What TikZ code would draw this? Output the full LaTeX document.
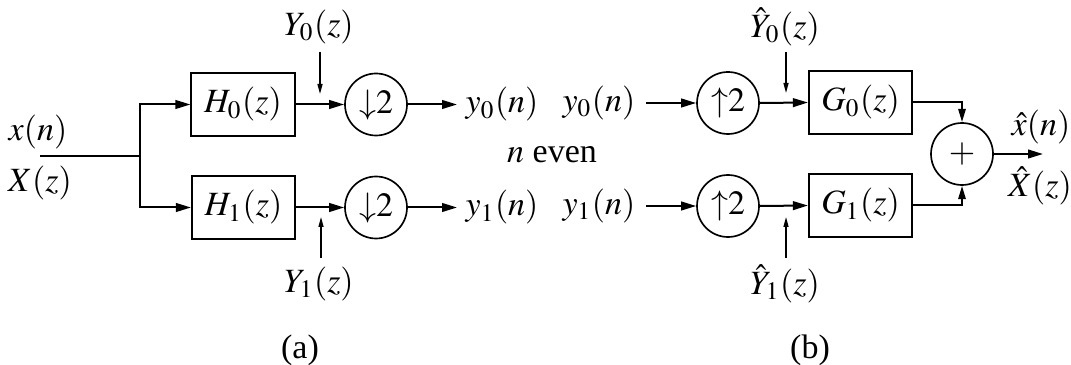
\documentclass[tikz,border=0pt]{standalone}
\usepackage{mathptmx}
\usepackage[no-math]{fontspec}
\setmainfont{Liberation Serif}
\usetikzlibrary{arrows.meta}
\begin{document}
\begin{tikzpicture}[x=0.3pt,y=-0.3pt,
  font=\fontsize{10.2}{12}\selectfont,
  every node/.style={inner sep=0pt},
  blk/.style={draw,line width=0.55pt,minimum width=31pt,minimum height=19pt,inner sep=0pt},
  rate/.style={draw,circle,line width=0.5pt,minimum size=18.6pt,inner sep=0pt},
  lab/.style={inner sep=0pt},
  sig/.style={line width=0.6pt},
  arr/.style={line width=0.6pt,-{Triangle[length=4.5pt,width=2.6pt]}},
  thinarr/.style={line width=0.4pt,-{Triangle[length=3pt,width=1.5pt]}},
  sumarr/.style={line width=0.6pt,-{Triangle[length=4pt,width=2.2pt]}}]
\useasboundingbox (0,0) rectangle (1071,365);
% ---------- (a) analysis ----------
\coordinate (in) at (40,156);
\coordinate (br) at (140,156);
\node[lab] (xn) at (38,132) {$x(n)$};
\node[lab] (Xz) at (40,183) {$X(z)$};
\node[blk] (H0) at (243,104.5) {$H_0(z)$};
\node[blk] (H1) at (243.5,207.5) {$H_1(z)$};
\node[rate] (D0) at (376,104.5) {${\downarrow}2$};
\node[rate] (D1) at (376,207.5) {${\downarrow}2$};
\node[lab,anchor=west] (y0a) at (465,104.5) {$y_0(n)$};
\node[lab,anchor=west] (y1a) at (465,207.5) {$y_1(n)$};
\node[lab] (Y0) at (319,27) {$Y_0(z)$};
\node[lab] (Y1) at (319,284) {$Y_1(z)$};
\coordinate (Y0s) at (320,52);
\coordinate (Y0e) at (320,94);
\coordinate (Y1s) at (321,258);
\coordinate (Y1e) at (321,217);
\coordinate (y0ae) at (457,104.5);
\coordinate (y1ae) at (457,207.5);
\draw[sig] (in) -- (br);
\draw[arr] (br) |- (H0.west);
\draw[arr] (br) |- (H1.west);
\draw[arr] (H0.east) -- (D0.west);
\draw[arr] (H1.east) -- (D1.west);
\draw[arr] (D0.east) -- (y0ae);
\draw[arr] (D1.east) -- (y1ae);
\draw[thinarr] (Y0s) -- (Y0e);
\draw[thinarr] (Y1s) -- (Y1e);
\node[lab] (ev) at (552,155) {$n$ even};
% ---------- (b) synthesis ----------
\node[lab,anchor=east] (y0b) at (636,103) {$y_0(n)$};
\node[lab,anchor=east] (y1b) at (636,206) {$y_1(n)$};
\coordinate (y0bs) at (646,103);
\coordinate (y1bs) at (646,206);
\node[rate] (U0) at (728,103) {${\uparrow}2$};
\node[rate] (U1) at (728,206) {${\uparrow}2$};
\node[blk] (G0) at (860.5,102.5) {$G_0(z)$};
\node[blk] (G1) at (860.5,205.5) {$G_1(z)$};
\node[rate] (S) at (962,154) {$+$};
\node[lab] (Yh0) at (785,27) {$\hat{Y}_0(z)$};
\node[lab] (Yh1) at (785,284) {$\hat{Y}_1(z)$};
\coordinate (Yh0s) at (786,52);
\coordinate (Yh0e) at (786,93);
\coordinate (Yh1s) at (786,258);
\coordinate (Yh1e) at (786,217);
\coordinate (out) at (1043,154);
\node[lab] (xh) at (1041,127) {$\hat{x}(n)$};
\node[lab] (Xh) at (1040,186) {$\hat{X}(z)$};
\draw[arr] (y0bs) -- (U0.west);
\draw[arr] (y1bs) -- (U1.west);
\draw[arr] (U0.east) -- (G0.west);
\draw[arr] (U1.east) -- (G1.west);
\draw[thinarr] (Yh0s) -- (Yh0e);
\draw[thinarr] (Yh1s) -- (Yh1e);
\draw[sumarr] (G0.east) -| (S.north);
\draw[sumarr] (G1.east) -| (S.south);
\draw[arr] (S.east) -- (out);
% ---------- captions ----------
\node[lab] (capa) at (300,350) {(a)};
\node[lab] (capb) at (810,350) {(b)};
\end{tikzpicture}
\end{document}
